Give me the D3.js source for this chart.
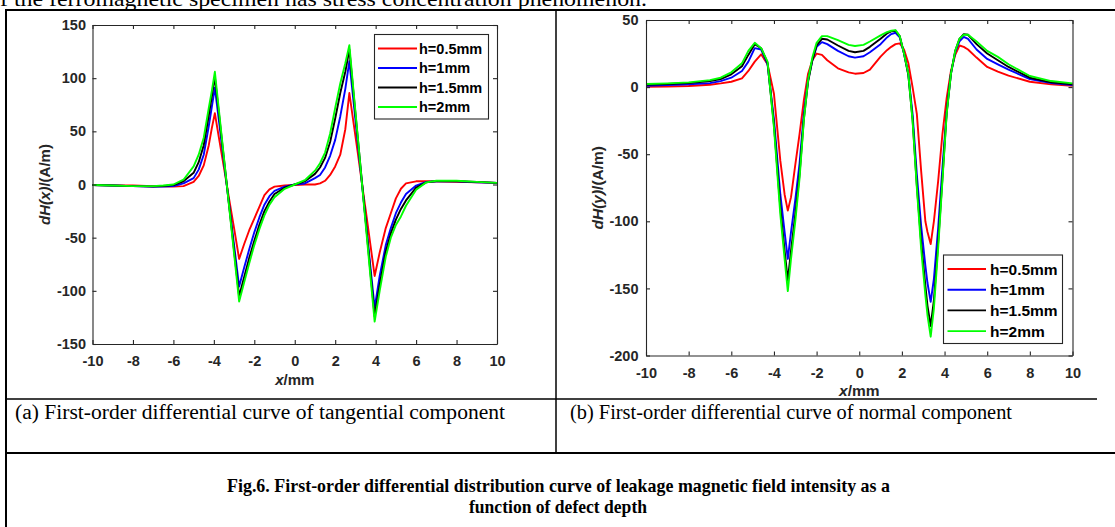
<!DOCTYPE html>
<html><head><meta charset="utf-8">
<script src="https://cdn.jsdelivr.net/npm/d3@7"></script>
<style>body{margin:0;background:#fff;} svg{display:block;}</style>
</head><body>
<svg id="c" width="1115" height="527"></svg>
<script>
// ---------------- DATA ----------------
const seriesNames = ["h=0.5mm", "h=1mm", "h=1.5mm", "h=2mm"];
const seriesColors = ["#ff0000", "#0000ff", "#000000", "#00ff00"];

const xTicks = [-10, -8, -6, -4, -2, 0, 2, 4, 6, 8, 10];
const yTicksA = [-150, -100, -50, 0, 50, 100, 150];
const yTicksB = [-200, -150, -100, -50, 0, 50];

// (a) tangential component dH(x)
const xA = [-10,-9,-8,-7,-6.5,-6,-5.5,-5,-4.75,-4.5,-4.25,-4.1,-3.95,-3.75,-3.5,-3.25,-3,-2.75,-2.5,-2.25,-2,-1.75,-1.5,-1.25,-1,-0.5,0,0.5,1,1.25,1.5,1.75,2,2.25,2.5,2.7,2.9,3.1,3.3,3.5,3.75,3.95,4.2,4.5,4.75,5,5.25,5.5,6,6.5,7,8,9,10];
const a05 = [-0.5,-0.8,-1,-1.5,-1.8,-2,-1.5,2.5,8,18,37,53,67,44,16,-13,-41,-70,-56,-43,-32,-21,-10,-4.5,-2,-1,-0.5,0,0,1,3.5,9,17,28,52,86,59,32,4,-23,-58,-86,-64,-41,-27,-13,-4,1,3,3,3,2.5,2,1.5];
const a10 = [-0.5,-1,-1.5,-2,-2,-1.5,1,6,14,28,55,73,91,60,21,-18,-57,-96,-78,-61,-45,-31,-19,-11,-6,-2,0,1,6,9,16,27,42,64,90,116,79,42,5,-32,-79,-116,-86,-57,-41,-27,-17,-9,-1,2.5,3,3,2,1.5];
const a15 = [-0.5,-1,-1.5,-2,-1.5,-0.5,3,11,21,37,65,83,101,67,24,-19,-62,-105,-87,-69,-53,-38,-25,-16,-9,-3,0,3,10,16,25,40,62,86,106,127,87,47,7,-33,-84,-124,-94,-63,-46,-33,-23,-15,-3,2,3,3,2.5,1.5];
const a20 = [-0.5,-1,-1.5,-1.5,-1,0,4.5,17,28,44,72,88,106,70,25,-20,-65,-110,-92,-74,-57,-42,-29,-19,-12,-4,0,4,13,20,30,48,72,95,114,131,89,48,6,-36,-88,-129,-100,-68,-50,-38,-30,-20,-5,2,3.5,3.5,2.5,1.5];

// (b) normal component dH(y)
const xB = [-10,-9,-8,-7,-6.5,-6,-5.5,-5.2,-4.9,-4.6,-4.3,-4,-3.7,-3.5,-3.35,-3.2,-3,-2.8,-2.6,-2.4,-2.2,-2,-1.75,-1.5,-1,-0.5,-0.2,0.2,0.5,1,1.3,1.5,1.7,1.9,2.1,2.3,2.5,2.7,2.9,3.1,3.2,3.35,3.5,3.7,3.9,4.1,4.3,4.5,4.7,4.9,5.1,5.5,6,6.5,7,8,9,10];
const b05 = [0.3,0.5,0.8,1.8,2.8,4,6.5,12,19,24.4,17,-5,-55,-80,-92,-82,-58,-35,-10,10,20,25,24,20,14,11,10,10.5,13,22.7,27.5,30,32,32.6,28,18,0,-20,-62,-100,-108,-117,-100,-70,-35,-8,12,24,31,30,28,22,15,11.5,8.5,4,2,1];
const b10 = [1,1.5,2,3,4.5,7,12,19,29,28,17,-24,-80,-108,-128,-108,-84,-57,-20,5,20,30,33.5,32,27,23,22,23,26,32,37,39.5,40.5,37,25,10,-20,-65,-103,-133,-146,-160,-143,-105,-60,-18,10,26,34,37.5,36,28,21,17,13,6,3,1.5];
const b15 = [1.8,2.3,3,4.5,6,9.5,15.5,24,32,29,18,-28,-90,-122,-144,-122,-95,-65,-24,4,20,31,36,35.5,31,27,26,27,30,36,40,41.5,42,38,25,9,-24,-73,-115,-148,-163,-178,-159,-116,-68,-19,10,27,36,39.5,39,32,25,20,15,7,3.5,2];
const b20 = [2.3,2.8,3.5,5.2,7,11,17.7,27,33,29,19,-30,-95,-128,-152,-128,-100,-68,-25,5,22,33,38,38,35,31.5,30.6,31.5,34,38.5,41,42,42.5,38,25,10,-25,-75,-120,-155,-170,-186,-165,-120,-70,-20,10,27,36,39,39,34,27,22.5,17,8.3,4.5,2.8];

// ---------------- DRAW ----------------
const svg = d3.select("#c");
const TICKFONT = "'Liberation Sans', Arial, sans-serif";
const SERIF = "'Liberation Serif', 'Times New Roman', serif";
const AX = "#262626";

function panel(o) {
  const x = d3.scaleLinear().domain([-10, 10]).range([o.L, o.R]);
  const y = d3.scaleLinear().domain(o.yDomain).range([o.B, o.T]);
  const g = svg.append("g");
  const tl = 4;
  const fmt = d => String(d);

  const line = d3.line().x(d => x(d[0])).y(d => y(d[1]));
  o.series.forEach((s, i) => {
    g.append("path")
      .datum(o.xs.map((xv, k) => [xv, s[k]]))
      .attr("fill", "none")
      .attr("stroke", seriesColors[i])
      .attr("stroke-width", 1.9)
      .attr("stroke-linejoin", "round")
      .attr("d", line);
  });

  const style = sel => {
    sel.selectAll("path.domain").attr("stroke", AX).attr("stroke-width", 1.1);
    sel.selectAll(".tick line").attr("stroke", AX).attr("stroke-width", 1.1);
    sel.selectAll(".tick text").attr("fill", AX)
      .attr("font-family", TICKFONT).attr("font-weight", "bold").attr("font-size", o.tickFont);
  };
  g.append("g").attr("transform", `translate(0,${o.B})`)
    .call(d3.axisBottom(x).tickValues(xTicks).tickSizeInner(-tl).tickSizeOuter(0).tickPadding(o.xPad).tickFormat(fmt))
    .call(style);
  g.append("g").attr("transform", `translate(0,${o.T})`)
    .call(d3.axisTop(x).tickValues(xTicks).tickSizeInner(-tl).tickSizeOuter(0).tickFormat(""))
    .call(style);
  g.append("g").attr("transform", `translate(${o.L},0)`)
    .call(d3.axisLeft(y).tickValues(o.yTicks).tickSizeInner(-tl).tickSizeOuter(0).tickPadding(o.yPad).tickFormat(fmt))
    .call(style);
  g.append("g").attr("transform", `translate(${o.R},0)`)
    .call(d3.axisRight(y).tickValues(o.yTicks).tickSizeInner(-tl).tickSizeOuter(0).tickFormat(""))
    .call(style);

  const yl = g.append("text")
    .attr("transform", `translate(${o.yLabX},${(o.T + o.B) / 2}) rotate(-90)`)
    .attr("text-anchor", "middle")
    .attr("font-family", TICKFONT).attr("font-weight", "bold")
    .attr("font-size", o.labFont).attr("fill", AX);
  yl.append("tspan").attr("font-style", "italic").text(o.yLabA);
  yl.append("tspan").text("/(A/m)");

  const xl = g.append("text")
    .attr("x", (o.L + o.R) / 2).attr("y", o.xLabY)
    .attr("text-anchor", "middle")
    .attr("font-family", TICKFONT).attr("font-weight", "bold")
    .attr("font-size", o.labFont).attr("fill", AX);
  xl.append("tspan").attr("font-style", "italic").text("x");
  xl.append("tspan").text("/mm");

  const lg = o.legend;
  g.append("rect").attr("x", lg.x0).attr("y", lg.y0)
    .attr("width", lg.x1 - lg.x0).attr("height", lg.y1 - lg.y0)
    .attr("fill", "#fff").attr("stroke", AX).attr("stroke-width", 1.1);
  seriesNames.forEach((n, i) => {
    const cy = lg.firstY + i * lg.step;
    g.append("line").attr("x1", lg.lx0).attr("x2", lg.lx1).attr("y1", cy).attr("y2", cy)
      .attr("stroke", seriesColors[i]).attr("stroke-width", 1.9);
    g.append("text").attr("x", lg.tx).attr("y", cy).attr("dy", "0.36em")
      .attr("font-family", TICKFONT).attr("font-weight", "bold")
      .attr("font-size", lg.font).attr("fill", "#000").text(n);
  });
}

// figure text and table frame
svg.append("text").attr("x", 0).attr("y", 5.5)
  .attr("font-family", SERIF).attr("font-size", 21).attr("fill", "#000")
  .attr("textLength", 647).attr("lengthAdjust", "spacingAndGlyphs")
  .text("f the ferromagnetic specimen has stress concentration phenomenon.");

const frame = svg.append("g").attr("stroke", "#000").attr("fill", "none");
frame.append("line").attr("x1", 5).attr("x2", 1115).attr("y1", 10).attr("y2", 10).attr("stroke-width", 2);
frame.append("line").attr("x1", 6).attr("x2", 6).attr("y1", 9).attr("y2", 527).attr("stroke-width", 2);
frame.append("line").attr("x1", 556).attr("x2", 556).attr("y1", 10).attr("y2", 453).attr("stroke-width", 1.5);
frame.append("line").attr("x1", 6).attr("x2", 1097).attr("y1", 399).attr("y2", 399).attr("stroke-width", 1.5);
frame.append("line").attr("x1", 6).attr("x2", 1115).attr("y1", 453).attr("y2", 453).attr("stroke-width", 2);

panel({
  L: 92.5, R: 497, T: 25, B: 344, yDomain: [-150, 150], yTicks: yTicksA,
  xs: xA, series: [a05, a10, a15, a20],
  tickFont: 14.5, labFont: 15, xPad: 12, yPad: 6.5,
  yLabX: 50, yLabA: "dH(x)", xLabY: 385,
  legend: { x0: 374.5, x1: 488.5, y0: 34.5, y1: 119, firstY: 48.5, step: 19.5, lx0: 378, lx1: 417, tx: 419, font: 14.5 }
});

panel({
  L: 646, R: 1072.5, T: 20, B: 355.5, yDomain: [-200, 50], yTicks: yTicksB,
  xs: xB, series: [b05, b10, b15, b20],
  tickFont: 14.5, labFont: 15.5, xPad: 12.5, yPad: 7.5,
  yLabX: 603, yLabA: "dH(y)", xLabY: 396,
  legend: { x0: 943.5, x1: 1062.5, y0: 255, y1: 343.5, firstY: 269, step: 20.7, lx0: 947.5, lx1: 986, tx: 990, font: 15.5 }
});

// captions
svg.append("text").attr("x", 15).attr("y", 419)
  .attr("font-family", SERIF).attr("font-size", 20).attr("fill", "#000")
  .attr("textLength", 490).attr("lengthAdjust", "spacingAndGlyphs")
  .text("(a) First-order differential curve of tangential component");
svg.append("text").attr("x", 570).attr("y", 419)
  .attr("font-family", SERIF).attr("font-size", 20).attr("fill", "#000")
  .attr("textLength", 442).attr("lengthAdjust", "spacingAndGlyphs")
  .text("(b) First-order differential curve of normal component");

svg.append("text").attr("x", 227).attr("y", 492)
  .attr("font-family", SERIF).attr("font-weight", "bold").attr("font-size", 19.5).attr("fill", "#000")
  .attr("textLength", 663).attr("lengthAdjust", "spacingAndGlyphs")
  .text("Fig.6. First-order differential distribution curve of leakage magnetic field intensity as a");
svg.append("text").attr("x", 469).attr("y", 513)
  .attr("font-family", SERIF).attr("font-weight", "bold").attr("font-size", 19.5).attr("fill", "#000")
  .attr("textLength", 178).attr("lengthAdjust", "spacingAndGlyphs")
  .text("function of defect depth");
</script>
</body></html>
